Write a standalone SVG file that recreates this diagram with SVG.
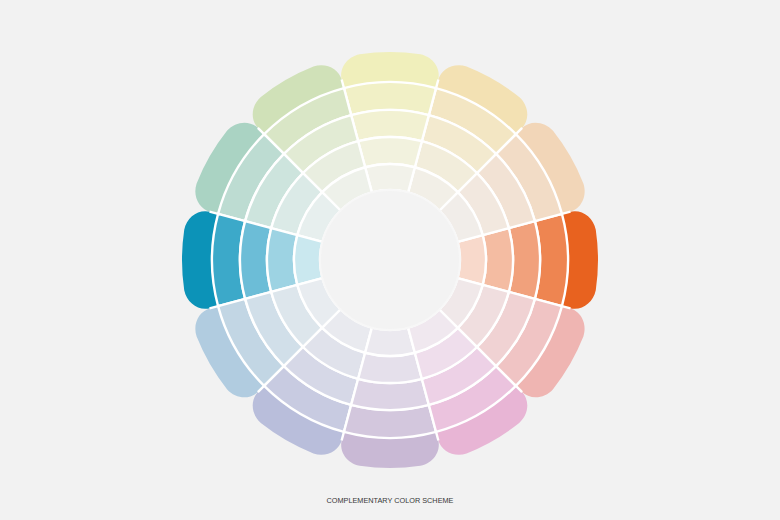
<svg xmlns="http://www.w3.org/2000/svg" xmlns:xlink="http://www.w3.org/1999/xlink" width="780" height="520" viewBox="0 0 780 520">
  <style>
    .s { stroke: #ffffff; stroke-width: 2.4; stroke-linejoin: round; }
    .sep { stroke: #ffffff; stroke-width: 2.4; stroke-linecap: butt; fill: none; }
    .cap { font-family: "Liberation Sans", "DejaVu Sans", sans-serif; font-size: 7.3px; fill: #383838; }
  </style>
  <defs>
    <path id="r5" d="M67.61,-18.12 A70,70 0 0 1 67.61,18.12 L92.73,24.85 A96,96 0 0 0 92.73,-24.85 Z"/>
    <path id="r4" d="M92.73,-24.85 A96,96 0 0 1 92.73,24.85 L118.81,31.83 A123,123 0 0 0 118.81,-31.83 Z"/>
    <path id="r3" d="M118.81,-31.83 A123,123 0 0 1 118.81,31.83 L144.89,38.82 A150,150 0 0 0 144.89,-38.82 Z"/>
    <path id="r2" d="M144.89,-38.82 A150,150 0 0 1 144.89,38.82 L171.94,46.07 A178,178 0 0 0 171.94,-46.07 Z"/>
    <path id="r1" d="M171.94,-46.07 L179.66,-48.14 C191.35,-51.27 203.10,-43.26 205.77,-30.35 A208,208 0 0 1 205.77,30.35 C203.10,43.26 191.35,51.27 179.66,48.14 L171.94,46.07 A178,178 0 0 0 171.94,-46.07 Z"/>
    <line id="sp" x1="170" y1="-45.55" x2="180.5" y2="-48.36"/>
  </defs>
  <rect x="0" y="0" width="780" height="520" fill="#f2f2f2"/>
  <g id="wheel" transform="translate(390,260)">
    <g id="seg-orange" transform="rotate(0)">
      <use xlink:href="#r1" href="#r1" fill="#e8621f"/>
      <use xlink:href="#r2" href="#r2" class="s" fill="#ee8551"/>
      <use xlink:href="#r3" href="#r3" class="s" fill="#f1a17c"/>
      <use xlink:href="#r4" href="#r4" class="s" fill="#f4bca2"/>
      <use xlink:href="#r5" href="#r5" class="s" fill="#f8d9cb"/>
    </g>
    <g id="seg-peach" transform="rotate(-30)">
      <use xlink:href="#r1" href="#r1" fill="#f2d6b8"/>
      <use xlink:href="#r2" href="#r2" class="s" fill="#f2dcc6"/>
      <use xlink:href="#r3" href="#r3" class="s" fill="#f2e2d4"/>
      <use xlink:href="#r4" href="#r4" class="s" fill="#f2e8df"/>
      <use xlink:href="#r5" href="#r5" class="s" fill="#f1ede9"/>
    </g>
    <g id="seg-yelloworange" transform="rotate(-60)">
      <use xlink:href="#r1" href="#r1" fill="#f3e1b3"/>
      <use xlink:href="#r2" href="#r2" class="s" fill="#f3e6c3"/>
      <use xlink:href="#r3" href="#r3" class="s" fill="#f3eacf"/>
      <use xlink:href="#r4" href="#r4" class="s" fill="#f2eddb"/>
      <use xlink:href="#r5" href="#r5" class="s" fill="#f2efe7"/>
    </g>
    <g id="seg-yellow" transform="rotate(-90)">
      <use xlink:href="#r1" href="#r1" fill="#f0efbb"/>
      <use xlink:href="#r2" href="#r2" class="s" fill="#f1f0c6"/>
      <use xlink:href="#r3" href="#r3" class="s" fill="#f2f1d2"/>
      <use xlink:href="#r4" href="#r4" class="s" fill="#f2f2de"/>
      <use xlink:href="#r5" href="#r5" class="s" fill="#f2f2ea"/>
    </g>
    <g id="seg-green" transform="rotate(-120)">
      <use xlink:href="#r1" href="#r1" fill="#d0e1b8"/>
      <use xlink:href="#r2" href="#r2" class="s" fill="#d9e6c6"/>
      <use xlink:href="#r3" href="#r3" class="s" fill="#e2ebd4"/>
      <use xlink:href="#r4" href="#r4" class="s" fill="#e9eee0"/>
      <use xlink:href="#r5" href="#r5" class="s" fill="#eef1ea"/>
    </g>
    <g id="seg-mint" transform="rotate(-150)">
      <use xlink:href="#r1" href="#r1" fill="#aad3c3"/>
      <use xlink:href="#r2" href="#r2" class="s" fill="#bddcd2"/>
      <use xlink:href="#r3" href="#r3" class="s" fill="#cde4dd"/>
      <use xlink:href="#r4" href="#r4" class="s" fill="#dbeae7"/>
      <use xlink:href="#r5" href="#r5" class="s" fill="#e7efee"/>
    </g>
    <g id="seg-blue" transform="rotate(-180)">
      <use xlink:href="#r1" href="#r1" fill="#0c93b8"/>
      <use xlink:href="#r2" href="#r2" class="s" fill="#3ca9c9"/>
      <use xlink:href="#r3" href="#r3" class="s" fill="#6cbdd7"/>
      <use xlink:href="#r4" href="#r4" class="s" fill="#9dd3e3"/>
      <use xlink:href="#r5" href="#r5" class="s" fill="#cae8ef"/>
    </g>
    <g id="seg-lightblue" transform="rotate(-210)">
      <use xlink:href="#r1" href="#r1" fill="#b1cce0"/>
      <use xlink:href="#r2" href="#r2" class="s" fill="#c2d6e4"/>
      <use xlink:href="#r3" href="#r3" class="s" fill="#d1dfe9"/>
      <use xlink:href="#r4" href="#r4" class="s" fill="#dde6ec"/>
      <use xlink:href="#r5" href="#r5" class="s" fill="#e8ecf0"/>
    </g>
    <g id="seg-lilac" transform="rotate(-240)">
      <use xlink:href="#r1" href="#r1" fill="#b9bedb"/>
      <use xlink:href="#r2" href="#r2" class="s" fill="#c8cbe1"/>
      <use xlink:href="#r3" href="#r3" class="s" fill="#d6d8e7"/>
      <use xlink:href="#r4" href="#r4" class="s" fill="#e0e2eb"/>
      <use xlink:href="#r5" href="#r5" class="s" fill="#e9eaef"/>
    </g>
    <g id="seg-lavender" transform="rotate(-270)">
      <use xlink:href="#r1" href="#r1" fill="#c9b9d5"/>
      <use xlink:href="#r2" href="#r2" class="s" fill="#d3c7dd"/>
      <use xlink:href="#r3" href="#r3" class="s" fill="#ddd4e5"/>
      <use xlink:href="#r4" href="#r4" class="s" fill="#e5e0eb"/>
      <use xlink:href="#r5" href="#r5" class="s" fill="#ebe9ef"/>
    </g>
    <g id="seg-pink" transform="rotate(-300)">
      <use xlink:href="#r1" href="#r1" fill="#e8b5d5"/>
      <use xlink:href="#r2" href="#r2" class="s" fill="#ebc3de"/>
      <use xlink:href="#r3" href="#r3" class="s" fill="#edd1e6"/>
      <use xlink:href="#r4" href="#r4" class="s" fill="#efdeec"/>
      <use xlink:href="#r5" href="#r5" class="s" fill="#f0e8ef"/>
    </g>
    <g id="seg-salmon" transform="rotate(-330)">
      <use xlink:href="#r1" href="#r1" fill="#efb5b2"/>
      <use xlink:href="#r2" href="#r2" class="s" fill="#f0c4c4"/>
      <use xlink:href="#r3" href="#r3" class="s" fill="#f0d2d3"/>
      <use xlink:href="#r4" href="#r4" class="s" fill="#f0dedf"/>
      <use xlink:href="#r5" href="#r5" class="s" fill="#f0e8e9"/>
    </g>
    <g id="separators" class="sep">
      <use xlink:href="#sp" href="#sp" transform="rotate(0)"/>
      <use xlink:href="#sp" href="#sp" transform="rotate(-30)"/>
      <use xlink:href="#sp" href="#sp" transform="rotate(-60)"/>
      <use xlink:href="#sp" href="#sp" transform="rotate(-90)"/>
      <use xlink:href="#sp" href="#sp" transform="rotate(-120)"/>
      <use xlink:href="#sp" href="#sp" transform="rotate(-150)"/>
      <use xlink:href="#sp" href="#sp" transform="rotate(-180)"/>
      <use xlink:href="#sp" href="#sp" transform="rotate(-210)"/>
      <use xlink:href="#sp" href="#sp" transform="rotate(-240)"/>
      <use xlink:href="#sp" href="#sp" transform="rotate(-270)"/>
      <use xlink:href="#sp" href="#sp" transform="rotate(-300)"/>
      <use xlink:href="#sp" href="#sp" transform="rotate(-330)"/>
    </g>
    <circle id="hole" cx="0" cy="0" r="70" fill="#f3f3f3" stroke="#f7f7f7" stroke-width="2"/>
  </g>
  <text id="caption" class="cap" x="390" y="503" text-anchor="middle">COMPLEMENTARY COLOR SCHEME</text>
</svg>
